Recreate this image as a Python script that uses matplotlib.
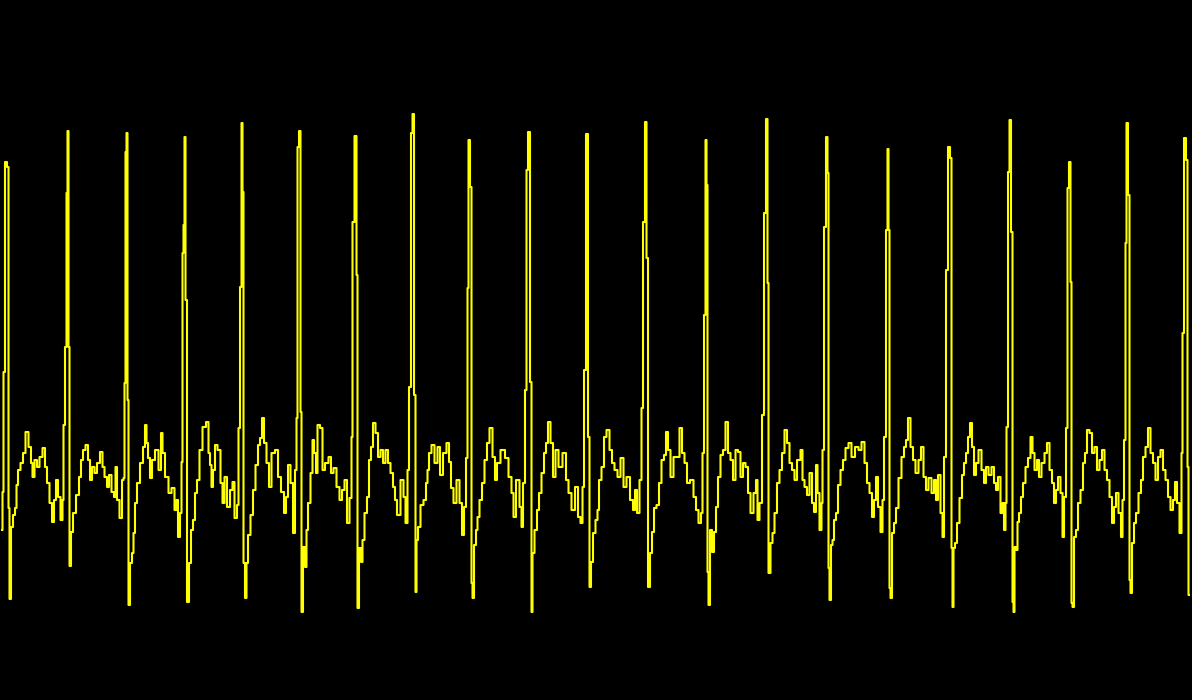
import matplotlib
matplotlib.use("Agg")
import matplotlib.pyplot as plt

# ECG trace: (sample index, amplitude in ADC units)
beats_01_04 = [
    (2, -30), (3, 8), (4, 128), (6, 338), (8, 333), (9, -8), (10, -99), (12, -27), (14, -15), (16, -8),
    (17, 15), (19, 30), (22, 37), (24, 47), (27, 68), (30, 53), (32, 37), (33, 23), (36, 40), (38, 33),
    (41, 43), (44, 52), (46, 33), (48, 17), (51, -3), (53, -22), (55, 0), (57, 20), (59, 3), (62, -20),
    (63, 0), (64, 75), (66, 153), (67, 307), (68, 369), (69, 153), (70, -66),
    (72, -32), (74, -13), (78, 5), (80, 23), (82, 40), (84, 50), (87, 55), (89, 40), (91, 20), (93, 33),
    (96, 27), (98, 37), (102, 48), (103, 33), (106, 23), (108, 13), (110, 25), (113, 8), (115, 3), (116, 33),
    (118, 0), (121, -18), (123, 20), (124, 22), (125, 117), (126, 348), (127, 367), (128, 100), (129, -105),
    (131, -63), (133, -53), (134, -33), (136, -3), (138, 17), (142, 37), (144, 53), (146, 75), (147, 57),
    (149, 42), (151, 22), (153, 40), (157, 50), (160, 30), (162, 67), (163, 47), (167, 23), (170, 7),
    (173, 12), (176, -10), (177, 0), (179, -37), (181, -13), (182, 38), (183, 247), (184, 275), (185, 363),
    (186, 200), (188, -102),
]
beats_05_08 = [
    (190, -63), (192, -30), (194, -20), (196, 7), (198, 20), (201, 50), (204, 73), (208, 78), (209, 47),
    (211, 35), (212, 13), (214, 30), (216, 55), (219, 50), (222, 17), (223, -3), (226, 23), (228, -7),
    (232, 10), (233, 18), (236, -18), (238, -5), (239, 72), (241, 213), (242, 377), (243, 308), (244, -63),
    (246, -98), (247, -63), (249, -35), (252, -15), (254, 10), (257, 35), (259, 55), (261, 62), (263, 82),
    (265, 57), (268, 37), (270, 13), (273, 47), (277, 50), (279, 23), (283, 8), (285, -13), (287, 3),
    (289, 35), (292, 17), (294, -33), (296, 30), (297, 82), (298, 353), (300, 369), (301, 88), (302, -112),
    (304, -47), (306, -67), (307, -30), (309, -3), (312, 27), (313, 60), (315, 47), (317, 27), (318, 75),
    (322, 72), (323, 30), (327, 37), (330, 43), (332, 27), (335, 32), (338, 13), (341, 0), (343, 10),
    (346, 20), (348, -23), (351, 2), (352, 63), (353, 278), (356, 364), (357, 225), (358, -108), (360, -48),
    (362, -62), (363, -40), (366, -13), (368, 3), (370, 40), (372, 53), (374, 77), (377, 67), (379, 43),
    (382, 50), (384, 37), (387, 50), (389, 37), (392, 27), (394, 13), (396, 0), (398, -15), (403, 20),
    (404, 3), (407, -23), (408, 30), (410, 113), (412, 367), (413, 386), (415, 105), (416, -92),
]
beats_09_12 = [
    (417, -40), (419, -27), (422, -5), (425, 0), (427, 17), (428, 30), (430, 47), (433, 55), (436, 37),
    (439, 53), (441, 25), (445, 47), (448, 57), (450, 38), (452, 12), (455, -3), (458, 20), (461, -3),
    (463, -35), (465, -7), (467, 42), (468, 212), (469, 360), (471, 313), (472, -83), (473, -98), (475, -45),
    (477, -30), (478, -17), (481, 0), (483, 17), (486, 40), (488, 57), (491, 72), (494, 43), (496, 20),
    (498, 37), (503, 50), (507, 42), (510, 23), (513, 7), (514, -17), (518, 20), (521, -7), (522, -27),
    (524, 17), (526, 110), (527, 330), (529, 368), (531, 118), (532, -112), (533, -53), (536, -30),
    (538, -10), (540, 7), (543, 27), (545, 47), (547, 57), (549, 78), (552, 57), (554, 23), (557, 50),
    (560, 33), (565, 47), (567, 20), (570, 7), (573, -10), (577, 13), (579, -17), (582, -23), (583, 13),
    (585, 130), (587, 366), (589, 63), (590, -87),
    (592, -62), (594, -33), (597, -20), (598, -10), (600, 20), (603, 33), (605, 63), (608, 70), (611, 50),
    (613, 37), (616, 30), (619, 23), (622, 42), (625, 13), (628, 23), (632, 0), (634, -10), (636, 10),
    (638, -13), (641, 20), (642, 92), (644, 278), (646, 378), (647, 242), (649, -87),
]
beats_13_16 = [
    (651, -53), (653, -32), (655, -8), (658, -5), (660, 17), (663, 40), (665, 45), (667, 68), (669, 50),
    (672, 23), (675, 43), (678, 43), (681, 72), (683, 47), (686, 37), (688, 17), (692, 20), (695, 3),
    (697, -10), (700, -23), (702, -13), (703, 47), (705, 185), (706, 360), (707, 315), (708, -72),
    (709, -105), (711, -30), (713, -52), (715, -32), (717, -7), (719, 23), (722, 45), (724, 50), (727, 78),
    (729, 47), (732, 40), (734, 20), (737, 50), (739, 48), (742, 23), (744, 37), (747, 33), (749, 7),
    (752, -13), (755, 7), (757, 20), (758, -20), (761, -3), (763, 85), (765, 287), (767, 381), (768, 217),
    (769, -73), (772, -43), (773, -33), (776, -13), (778, 17), (781, 30), (783, 47), (786, 70), (788, 57),
    (791, 37), (793, 30), (796, 20), (798, 40), (799, 40),
    (802, 50), (803, 20), (806, 13), (808, 5), (811, 27), (813, -3), (815, -12), (817, 35), (818, 7),
    (821, -30), (822, -3), (823, 50), (825, 273), (827, 363), (828, 327), (829, -68), (830, -100),
    (832, -45), (833, -40), (835, -20), (837, -13), (839, 15), (842, 30), (844, 40), (847, 52), (850, 57),
    (853, 43), (857, 53), (860, 50), (863, 58), (866, 37), (868, 17), (871, 7), (873, -17), (875, 0),
    (877, 23), (879, -7), (882, -32), (883, 0), (885, 63), (887, 270), (888, 351), (889, 270), (890, -88),
    (891, -98),
]
beats_17_21 = [
    (893, -33), (895, -23), (897, -8), (900, 22), (903, 43), (905, 53), (907, 60), (909, 82), (912, 53),
    (914, 40), (917, 27), (920, 40), (922, 53), (925, 23), (927, 10), (930, 22), (933, 7), (935, 20),
    (937, 0), (939, 25), (942, -13), (943, -37), (945, 43), (947, 230), (949, 353), (951, 342), (952, -48),
    (953, -107), (954, -48), (956, -43), (958, -23), (961, 2), (963, 25), (965, 37), (967, 47), (969, 63),
    (971, 77), (973, 53), (975, 25), (977, 37), (980, 50), (983, 30), (985, 17), (987, 33), (990, 25),
    (993, 33), (995, 17), (997, 10), (999, 23), (1002, -13), (1003, -3), (1005, -30), (1006, -3),
    (1007, 73), (1009, 328), (1010, 380), (1012, 268), (1013, -102), (1014, -112), (1015, -47),
    (1017, -50), (1018, -22), (1020, -13), (1022, 3), (1024, 17), (1027, 33), (1029, 42), (1032, 63),
    (1033, 47), (1036, 30), (1038, 40), (1040, 23), (1043, 37), (1046, 47), (1048, 57), (1051, 30),
    (1053, 17), (1055, -3), (1057, 10), (1059, 23), (1062, 7), (1063, -37), (1065, 3), (1067, 72),
    (1068, 312), (1070, 338), (1071, 218), (1072, -103), (1073, -107), (1075, -37), (1077, -30),
    (1079, -3), (1082, 10), (1084, 37), (1086, 47), (1088, 70), (1091, 67), (1093, 47), (1096, 53),
    (1098, 30), (1101, 40), (1103, 50), (1106, 30), (1108, 20), (1111, 3), (1113, -23), (1115, -7),
    (1117, 7), (1120, -13), (1122, -37), (1123, 0), (1125, 60), (1126, 257), (1127, 377), (1129, 305),
    (1130, -80), (1131, -93), (1133, -43), (1135, -23), (1137, -13), (1140, 7), (1142, 20), (1144, 43),
    (1147, 53), (1149, 72), (1152, 47), (1154, 37), (1157, 20), (1159, 43), (1162, 50), (1164, 30),
    (1167, 20), (1169, 3), (1172, -10), (1174, 0), (1176, 18), (1178, -3), (1181, -33), (1182, 47),
    (1183, 167), (1185, 362), (1187, 340), (1188, 33), (1189, -95),
]

trace = beats_01_04 + beats_05_08 + beats_09_12 + beats_13_16 + beats_17_21
samples = [p[0] for p in trace]
values = [p[1] for p in trace]

fig = plt.figure(figsize=(11.92, 7.0), dpi=100, facecolor="black")
ax = fig.add_axes([0, 0, 1, 1])
ax.set_facecolor("black")
ax.plot(samples, values, color="#FFFF00", lw=1.5, drawstyle="steps-mid")
ax.set_xlim(0, 1192)
ax.set_ylim(-200, 500)
ax.axis("off")
fig.savefig("out.png", dpi=100, facecolor="black")
